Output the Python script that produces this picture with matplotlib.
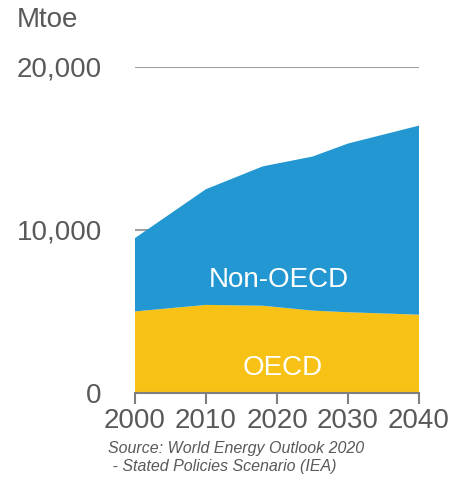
import numpy as np
import matplotlib.pyplot as plt

plt.rcParams['font.family'] = ['Liberation Sans', 'DejaVu Sans']

# primary energy demand, Mtoe (stated policies)
years = [2000, 2010, 2018, 2025, 2030, 2040]
oecd = [5000, 5400, 5350, 5050, 4950, 4800]
total = [9500, 12500, 13900, 14500, 15300, 16400]
non_oecd = [t - o for t, o in zip(total, oecd)]

yticks = [0, 10000, 20000]
xticks = [2000, 2010, 2020, 2030, 2040]

blue = "#2297D1"
yellow = "#F8C115"
grey = "#595959"

fig = plt.figure(figsize=(4.53, 4.78), dpi=100)
ax = fig.add_axes([0.298, 0.178, 0.627, 0.682])

ax.stackplot(years, oecd, non_oecd, colors=[yellow, blue], linewidth=0, zorder=2)

ax.set_xlim(2000, 2040)
ax.set_ylim(0, 20000)
ax.set_yticks(yticks)
ax.set_yticklabels([f"{v:,}" for v in yticks])
ax.set_xticks(xticks)
ax.yaxis.grid(True, color="#A0A0A0", linewidth=1.5, zorder=1)
ax.set_axisbelow(True)

for s in ["top", "right", "left"]:
    ax.spines[s].set_visible(False)
ax.spines["bottom"].set_color("#7F7F7F")
ax.spines["bottom"].set_linewidth(1.5)
ax.spines["bottom"].set_zorder(3)

ax.tick_params(axis="y", length=0, pad=24, labelsize=20, labelcolor=grey)
ax.tick_params(axis="x", length=8, width=1.5, color="#7F7F7F", pad=3,
               labelsize=20, labelcolor=grey)

ax.text(2020.3, 6900, "Non-OECD", color="white", fontsize=20,
        ha="center", va="center", zorder=4)
ax.text(2020.8, 1500, "OECD", color="white", fontsize=20,
        ha="center", va="center", zorder=4)

fig.text(17 / 453, 1 - 20 / 478, "Mtoe", color=grey, fontsize=20,
         ha="left", va="center")
fig.text(108 / 453, 1 - 449 / 478, "Source: World Energy Outlook 2020",
         color=grey, fontsize=11.5, style="italic", ha="left", va="center")
fig.text(108 / 453, 1 - 467 / 478, " - Stated Policies Scenario (IEA)",
         color=grey, fontsize=11.5, style="italic", ha="left", va="center")

fig.savefig("out.png", dpi=100)
